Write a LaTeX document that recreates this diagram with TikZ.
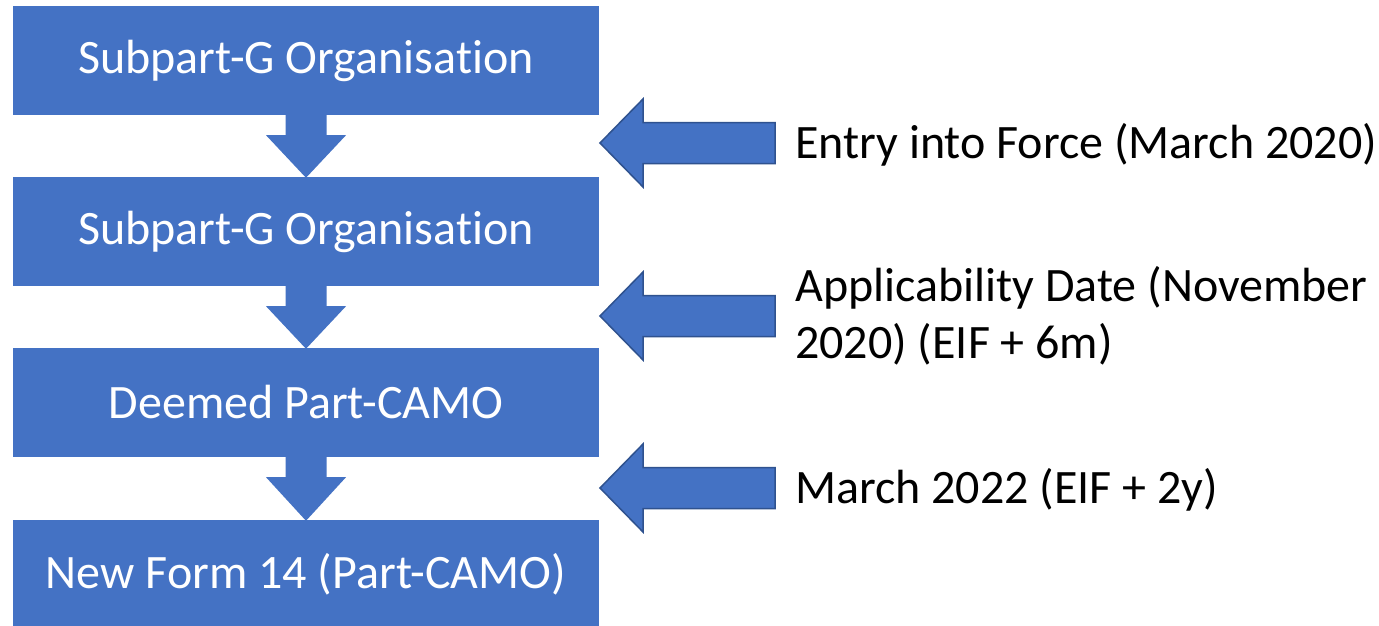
\documentclass[tikz,border=0pt]{standalone}
\usepackage{fontspec}
\setmainfont{Carlito}[Ligatures=NoCommon]
\usetikzlibrary{calc}
\definecolor{accent}{HTML}{4472C4}
\definecolor{accentdark}{HTML}{2F528F}
\tikzset{
  stage/.style={fill=accent, text=white, minimum width=586pt, minimum height=109pt,
    inner sep=0pt, font=\fontsize{48}{58}\selectfont},
  milestone/.style={fill=accent, draw=accentdark, line width=1.5pt, line join=miter},
  note/.style={anchor=west, inner sep=0pt, align=left, text=black,
    font=\fontsize{48}{57}\selectfont},
}
\begin{document}
\begin{tikzpicture}[x=1pt,y=-1pt]
\clip (0,0) rectangle (1379,626);
\fill[white] (0,0) rectangle (1379,626);

% stages of the transition
\node[stage] (b1) at (306,60.5)  {Subpart-G Organisation};
\node[stage] (b2) at (306,231.5) {Subpart-G Organisation};
\node[stage] (b3) at (306,402.5) {Deemed Part-CAMO};
\node[stage] (b4) at (306,574.5) {New Form 14 (Part-CAMO)};

% downward block arrows between stages
\foreach \a/\b in {b1/b2,b2/b3,b3/b4}
  \fill[accent] ($(\a.south)+(-20.5,0)$) -- ($(\a.south)+(20.5,0)$)
    -- ($(\a.south)+(20.5,20)$) -- ($(\a.south)+(40,20)$)
    -- ($(\b.north)+(0,1)$)
    -- ($(\a.south)+(-40,20)$) -- ($(\a.south)+(-20.5,20)$) -- cycle;

% milestone labels
\node[note] (n1) at (795,145) {Entry into Force (March 2020)};
\node[note] (n2) at (795,316) {Applicability Date (November\\2020) (EIF + 6m)};
\node[note] (n3) at (795,490) {March 2022 (EIF + 2y)};

% tips of the left-pointing arrows
\coordinate (t1) at (600,143);
\coordinate (t2) at (600,316);
\coordinate (t3) at (600,488);

\foreach \t in {t1,t2,t3}
  \draw[milestone] (\t) -- ++(43,-44) -- ++(0,23.5) -- ++(132,0) -- ++(0,41)
    -- ++(-132,0) -- ++(0,23.5) -- cycle;
\end{tikzpicture}
\end{document}
